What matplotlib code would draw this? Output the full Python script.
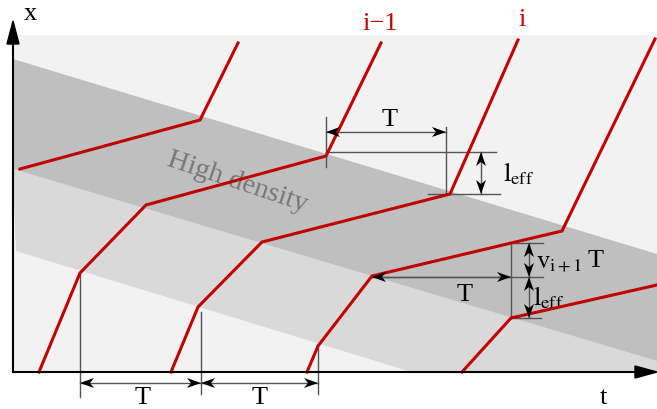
import numpy as np
import matplotlib.pyplot as plt
import matplotlib.patches as mpatches

# trajectories in picture units (t to the right, x upward on screen = smaller y)
veh_a_t = [20, 200, 238]
veh_a_x = [170, 121, 44]
veh_b_t = [39, 80, 146, 326, 381]      # i-1
veh_b_x = [373, 274, 206, 157, 44]
veh_c_t = [171, 198, 262, 450, 518]    # i
veh_c_x = [373, 308, 243, 195, 41]
veh_d_t = [307, 318, 372, 562, 655]
veh_d_x = [373, 347, 277, 232, 40]
veh_e_t = [462, 511, 657]
veh_e_x = [373, 319, 286]

# shaded zones
bg_t = [13, 657, 657, 13]
bg_x = [36, 36, 373, 373]
dense_t = [13, 657, 657, 13]
dense_x = [60, 255, 362, 170]
mid_t = [13, 657, 657, 415, 16]
mid_x = [170, 362, 374, 374, 252]

red = '#c00000'
dimc = '#555555'
serif = 'Liberation Serif'
plt.rcParams['mathtext.fontset'] = 'stix'

dpi = 100
fig = plt.figure(dpi=dpi, figsize=(657 / dpi, 410 / dpi))
ax = fig.add_axes([0, 0, 1, 1])
ax.set_xlim(0, 657)
ax.set_ylim(410, 0)
ax.axis('off')

ax.fill(bg_t, bg_x, color='#f2f2f2', lw=0, zorder=0)
ax.fill(mid_t, mid_x, color='#d9d9d9', lw=0, zorder=1)
ax.fill(dense_t, dense_x, color='#bfbfbf', lw=0, zorder=2)

ax.text(237, 182, 'High density', rotation=-18.5, color='#777777', fontsize=20.5,
        family=serif, ha='center', va='center', zorder=3)

for tt, xx in [(veh_a_t, veh_a_x), (veh_b_t, veh_b_x), (veh_c_t, veh_c_x),
               (veh_d_t, veh_d_x), (veh_e_t, veh_e_x)]:
    ax.plot(tt, xx, color=red, lw=2.2, solid_joinstyle='miter', zorder=6)

ax.text(380, 24, 'i\u22121', color=red, fontsize=19, family=serif, ha='center', va='center')
ax.text(522, 20, 'i', color=red, fontsize=19, family=serif, ha='center', va='center')

# axes
ax.plot([13, 13], [373, 40], color='black', lw=1.5, zorder=7)
ax.plot([13, 640], [373, 373], color='black', lw=1.5, zorder=7)
ax.add_patch(mpatches.Polygon([(7, 45), (19, 45), (13, 22)], color='black', zorder=8))
ax.add_patch(mpatches.Polygon([(635, 367), (635, 379), (657, 373)], color='black', zorder=8))
ax.text(30, 14, 'x', fontsize=19, family=serif, ha='center', va='center')
ax.text(603, 398, 't', fontsize=19, family=serif, ha='center', va='center')


def dline(xs, ys):
    ax.plot(xs, ys, color=dimc, lw=1, zorder=5)


def head(tip, back):
    # stealth-like arrow head pointing at tip
    tip = np.array(tip, float)
    d = tip - np.array(back, float)
    d /= np.hypot(*d)
    n = np.array([-d[1], d[0]])
    hl, hw, notch = 14, 5, 10
    pts = [tip, tip - hl * d + hw * n, tip - notch * d, tip - hl * d - hw * n]
    ax.add_patch(mpatches.Polygon(pts, closed=True, color='black', lw=0, zorder=9))


def darrow(p0, p1):
    dline([p0[0], p1[0]], [p0[1], p1[1]])
    head(p0, p1)
    head(p1, p0)


# top dimension
dline([326, 326], [118, 168])
dline([446, 446], [128, 195])
darrow((326, 133), (446, 133))
ax.text(390, 120, 'T', fontsize=19, family=serif, ha='center', va='center')
dline([326, 496], [153, 153])
dline([428, 500], [195, 195])
darrow((481, 153), (481, 195))
ax.text(503, 174, r'$\mathrm{l}_{\mathrm{eff}}$', fontsize=19, ha='left', va='center')

# right dimension
dline([511, 511], [244, 319])
dline([511, 543], [244, 244])
dline([372, 543], [278, 278])
dline([511, 541], [319, 319])
darrow((372, 278), (511, 278))
darrow((529, 244), (529, 278))
darrow((529, 278), (529, 319))
ax.text(465, 295, 'T', fontsize=19, family=serif, ha='center', va='center')
ax.text(536, 262, r'$\mathrm{v}_{\mathrm{i+1}}$', fontsize=19, ha='left', va='center')
ax.text(596, 261, 'T', fontsize=19, family=serif, ha='center', va='center')
ax.text(533, 298, r'$\mathrm{l}_{\mathrm{eff}}$', fontsize=19, ha='left', va='center')

# bottom dimension
dline([80, 80], [274, 398])
dline([201, 201], [313, 395])
dline([318, 318], [347, 395])
darrow((80, 384), (201, 384))
darrow((201, 384), (318, 384))
ax.text(143, 398, 'T', fontsize=19, family=serif, ha='center', va='center')
ax.text(260, 398, 'T', fontsize=19, family=serif, ha='center', va='center')

plt.savefig('out.png', dpi=dpi)
